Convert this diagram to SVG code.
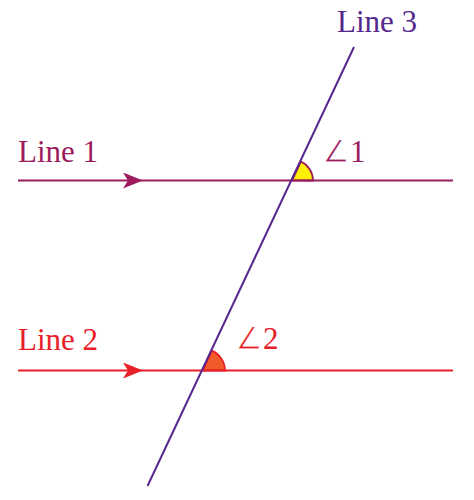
<svg xmlns="http://www.w3.org/2000/svg" width="474" height="500" viewBox="0 0 474 500">
<style>
text{font-family:"Liberation Serif","Times New Roman",serif;font-size:31px}
.ang{stroke:#FFFFFF;stroke-width:1.1px}
.l1{stroke:#9C1D5E;stroke-width:2;fill:none}
.l2{stroke:#E8202A;stroke-width:2;fill:none}
.l3{stroke:#56288E;stroke-width:2;fill:none}
</style>
<defs>
<marker id="a1" viewBox="0 0 20 16" refX="10" refY="8" markerWidth="20" markerHeight="16" markerUnits="userSpaceOnUse" orient="auto">
<path d="M0,0 L20,8 L0,16 L5,8 Z" fill="#9C1D5E"/>
</marker>
<marker id="a2" viewBox="0 0 20 16" refX="10" refY="8" markerWidth="20" markerHeight="16" markerUnits="userSpaceOnUse" orient="auto">
<path d="M0,0 L20,8 L0,16 L5,8 Z" fill="#E8202A"/>
</marker>
</defs>
<g id="angle1">
<path d="M292,180.5 L313,180.5 A21,21 0 0 0 300.9,161.5 Z" fill="#FFF200" stroke="#9C1D5E" stroke-width="1.8"/>
<text x="322" y="162" fill="#9C1D5E"><tspan class="ang">∠</tspan><tspan>1</tspan></text>
</g>
<g id="angle2">
<path d="M202.7,370.5 L225,370.5 A22,22 0 0 0 212,350.6 Z" fill="#F15A2B" stroke="#E8202A" stroke-width="1.8"/>
<text x="235" y="349" fill="#E8202A"><tspan class="ang">∠</tspan><tspan>2</tspan></text>
</g>
<g id="connectors">
<path id="line1" class="l1" d="M18,180.5 L133,180.5 L453,180.5" marker-mid="url(#a1)"/>
<path id="line2" class="l2" d="M18,370.5 L133,370.5 L453,370.5" marker-mid="url(#a2)"/>
<path id="line3" class="l3" d="M354,47 L147.5,486"/>
</g>
<g id="labels">
<text x="18" y="162" fill="#9C1D5E">Line 1</text>
<text x="18" y="350" fill="#E8202A">Line 2</text>
<text x="337" y="32" fill="#56288E">Line 3</text>
</g>
</svg>
